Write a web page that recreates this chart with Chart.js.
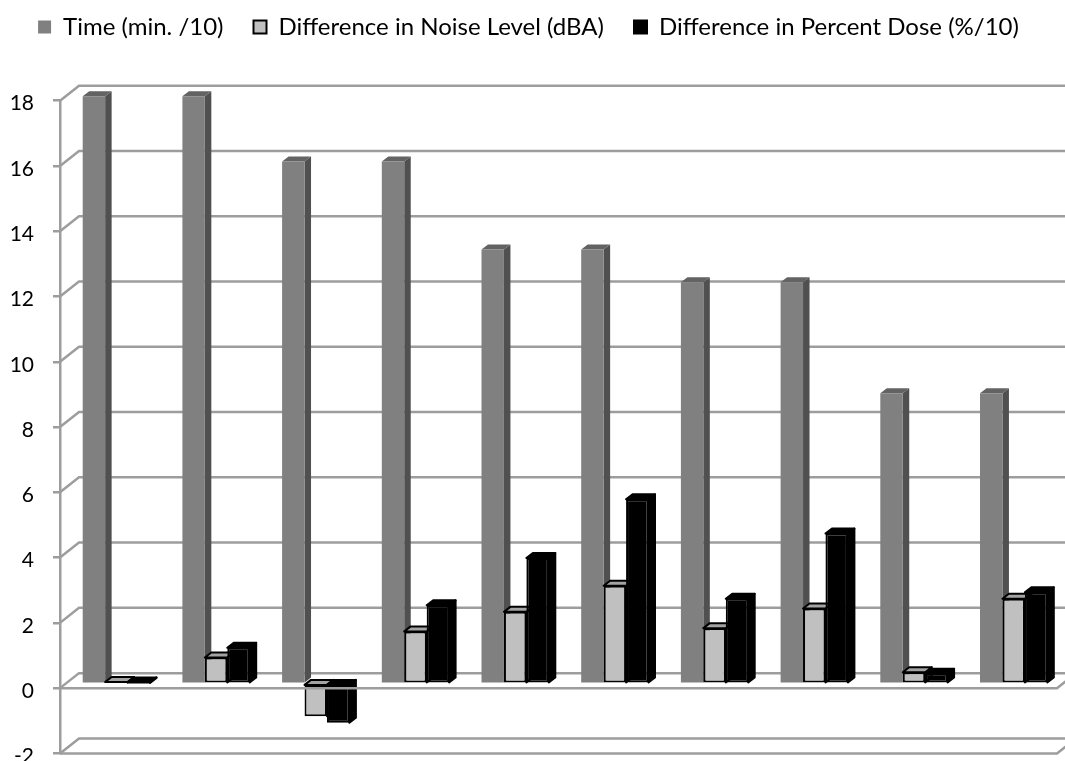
<!DOCTYPE html>
<html>
<head>
<meta charset="utf-8">
<script src="https://cdn.jsdelivr.net/npm/chart.js@4.4.1/dist/chart.umd.min.js"></script>
<style>
  html, body { margin: 0; padding: 0; background: #ffffff; overflow: hidden; }
  canvas { display: block; }
</style>
</head>
<body>
<canvas id="chart" width="1065" height="761"></canvas>
<script>
// ---- data ----
const categories = ['1', '2', '3', '4', '5', '6', '7', '8', '9', '10'];
const seriesNames = ['Time (min. /10)', 'Difference in Noise Level (dBA)', 'Difference in Percent Dose (%/10)'];
const timeValues  = [18, 18, 16, 16, 13.3, 13.3, 12.3, 12.3, 8.9, 8.9];
const noiseValues = [0.05, 0.8, -1.0, 1.6, 2.2, 3.0, 1.7, 2.3, 0.35, 2.6];
const doseValues  = [0.02, 1.1, -1.2, 2.4, 3.85, 5.65, 2.6, 4.6, 0.3, 2.8];
const yMin = -2, yMax = 18, yStep = 2;

// ---- 3D look ----
const WALL_DX = 19, WALL_DY = 15;        // depth of the side wall / back wall
const ROW_DX = 6.5, ROW_DY = 4.5;        // bar row sits slightly behind the front edge
const BAR_DX = 6.5, BAR_DY = 5;          // depth of each column
const GRID = '#9d9d9d', GRID_W = 2.5;

const faceStyles = [
  { side: '#505050', top: '#636363', stroke: null },
  { side: '#8f8f8f', top: '#a3a3a3', stroke: '#000000' },
  { side: '#000000', top: '#000000', stroke: '#000000' }
];

function drawFaces(ctx, bar, style) {
  const p = bar.getProps(['x', 'y', 'base', 'width'], true);
  const l = p.x - p.width / 2, r = p.x + p.width / 2;
  const t = Math.min(p.y, p.base), b = Math.max(p.y, p.base);
  ctx.save();
  ctx.lineJoin = 'round';
  ctx.lineWidth = 2;
  if (style.stroke) ctx.strokeStyle = style.stroke;
  // right side face
  ctx.beginPath();
  ctx.moveTo(r, t);
  ctx.lineTo(r + BAR_DX, t - BAR_DY);
  ctx.lineTo(r + BAR_DX, b - BAR_DY);
  ctx.lineTo(r, b);
  ctx.closePath();
  ctx.fillStyle = style.side;
  ctx.fill();
  if (style.stroke) ctx.stroke();
  // top face
  ctx.beginPath();
  ctx.moveTo(l, t);
  ctx.lineTo(l + BAR_DX, t - BAR_DY);
  ctx.lineTo(r + BAR_DX, t - BAR_DY);
  ctx.lineTo(r, t);
  ctx.closePath();
  ctx.fillStyle = style.top;
  ctx.fill();
  if (style.stroke) ctx.stroke();
  ctx.restore();
}

function tickValues() {
  const out = [];
  for (let v = yMin; v <= yMax + 1e-9; v += yStep) out.push(v);
  return out;
}

// walls, 3D columns and floor edges
const scene3d = {
  id: 'scene3d',
  beforeDatasetsDraw(chart) {
    const { ctx, chartArea: a } = chart;
    const y = chart.scales.y;
    ctx.save();
    ctx.strokeStyle = GRID;
    ctx.lineWidth = GRID_W;
    // side wall slants + back wall gridlines
    for (const v of tickValues()) {
      const py = y.getPixelForValue(v);
      ctx.beginPath();
      ctx.moveTo(a.left, py);
      ctx.lineTo(a.left + WALL_DX, py - WALL_DY);
      ctx.lineTo(chart.width + 40, py - WALL_DY);
      ctx.stroke();
    }
    ctx.restore();

    // columns, left to right so each one covers its neighbour's side
    ctx.save();
    ctx.translate(ROW_DX, -ROW_DY);
    const metas = [0, 1, 2].map(i => chart.getDatasetMeta(i));
    for (let i = 0; i < categories.length; i++) {
      metas.forEach((m, k) => {
        const bar = m.data[i];
        drawFaces(ctx, bar, faceStyles[k]);
        bar.draw(ctx);
      });
    }
    ctx.restore();

    // front edges of the floor (value 0) and of the base (axis minimum)
    ctx.save();
    ctx.strokeStyle = GRID;
    ctx.lineWidth = GRID_W;
    [0, yMin].forEach(v => {
      const py = y.getPixelForValue(v);
      ctx.beginPath();
      ctx.moveTo(a.left, py);
      ctx.lineTo(a.right, py);
      ctx.lineTo(a.right + WALL_DX, py - WALL_DY);
      ctx.stroke();
    });
    ctx.restore();
    return false;
  }
};

// fixed legend band height so the plot frame lands where it should
const LEGEND_TOP = -15, PLOT_TOP = 100.7;
const legendBand = {
  id: 'legendBand',
  beforeInit(chart) {
    const lg = chart.legend;
    const fit = lg.fit;
    lg.fit = function () {
      fit.call(this);
      this.height = PLOT_TOP - LEGEND_TOP;
    };
  }
};

Chart.defaults.font.family = 'Lato';
Chart.defaults.color = '#000000';

new Chart(document.getElementById('chart'), {
  type: 'bar',
  data: {
    labels: categories,
    datasets: [
      { label: seriesNames[0], data: timeValues, backgroundColor: '#808080', borderWidth: 0 },
      { label: seriesNames[1], data: noiseValues, backgroundColor: '#c0c0c0', borderColor: '#000000', borderWidth: 2, borderSkipped: false },
      { label: seriesNames[2], data: doseValues, backgroundColor: '#000000', borderColor: '#000000', borderWidth: 2, borderSkipped: false }
    ]
  },
  options: {
    responsive: false,
    devicePixelRatio: 1,
    animation: false,
    categoryPercentage: 0.675,
    barPercentage: 1.0,
    layout: { padding: { top: LEGEND_TOP, left: 0, right: 8, bottom: 7.6 } },
    plugins: {
      legend: {
        position: 'top',
        align: 'center',
        labels: {
          boxWidth: 13,
          boxHeight: 13,
          padding: 30,
          color: '#000000',
          font: { family: 'Lato', size: 24 }
        }
      },
      tooltip: { enabled: false }
    },
    scales: {
      x: { display: false },
      y: {
        min: yMin,
        max: yMax,
        ticks: { stepSize: yStep, padding: 19, labelOffset: 3, color: '#000000', font: { family: 'Lato', size: 21 } },
        grid: { display: true, drawOnChartArea: false, drawTicks: true, tickLength: 7, color: GRID, lineWidth: GRID_W },
        border: { display: true, color: GRID, width: GRID_W },
        afterFit(scale) {
          scale.width = 60;
          scale.paddingTop = 0;
          scale.paddingBottom = 0;
        }
      }
    }
  },
  plugins: [legendBand, scene3d]
});
</script>
</body>
</html>
